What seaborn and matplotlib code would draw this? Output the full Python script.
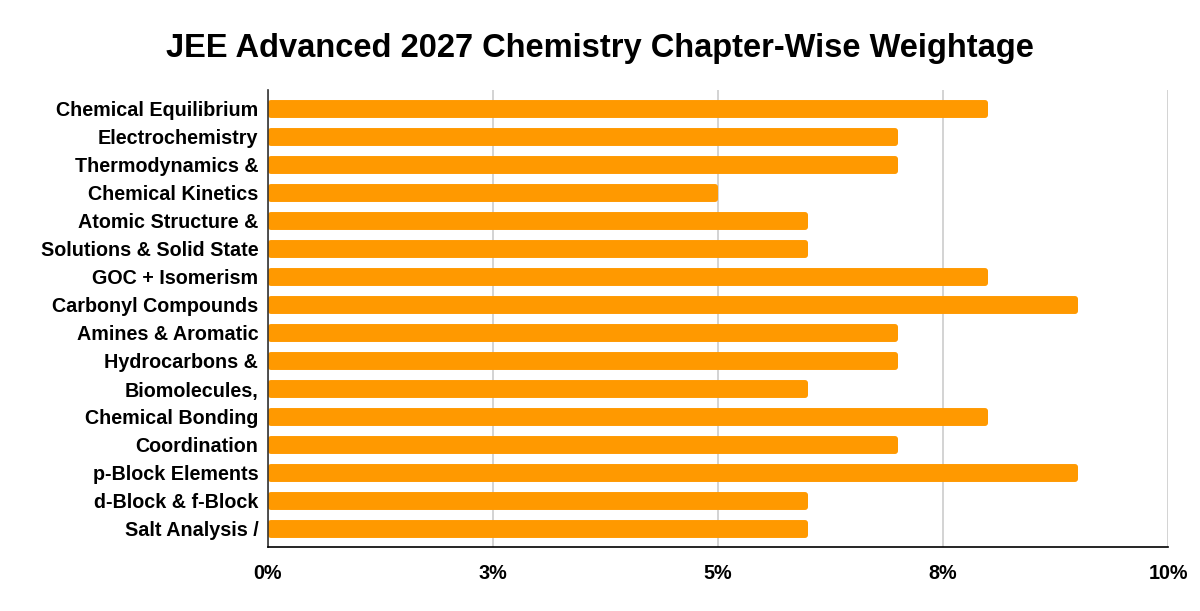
import matplotlib
matplotlib.use("Agg")
import matplotlib.pyplot as plt
import seaborn as sns
import pandas as pd
from matplotlib.patches import FancyBboxPatch
from matplotlib.ticker import FixedLocator, FixedFormatter

# Dữ liệu
chapters = [
    "Chemical Equilibrium", "Electrochemistry", "Thermodynamics &",
    "Chemical Kinetics", "Atomic Structure &", "Solutions & Solid State",
    "GOC + Isomerism", "Carbonyl Compounds", "Amines & Aromatic",
    "Hydrocarbons &", "Biomolecules,", "Chemical Bonding", "Coordination",
    "p-Block Elements", "d-Block & f-Block", "Salt Analysis /",
]
weightage = [8, 7, 7, 5, 6, 6, 8, 9, 7, 7, 6, 8, 7, 9, 6, 6]
tick_values = [0, 2.5, 5, 7.5, 10]
tick_labels = ["0%", "3%", "5%", "8%", "10%"]

df = pd.DataFrame({"Chapter": chapters, "Weightage": weightage})

sns.set_theme(style="white")
plt.rcParams["font.family"] = ["Liberation Sans", "DejaVu Sans"]
plt.rcParams["text.color"] = "black"
plt.rcParams["xtick.color"] = "black"
plt.rcParams["ytick.color"] = "black"

fig = plt.figure(figsize=(12, 6.11), dpi=100)
ax = fig.add_axes([268 / 1200, 1 - 547 / 611, 900 / 1200, 457 / 611])

sns.barplot(data=df, x="Weightage", y="Chapter", color="#ff9900",
            saturation=1, width=0.64, ax=ax, zorder=2)

n = len(chapters)
ax.set_xlim(0, 10)
ax.set_ylim(n - 0.5 + 4 / 28, -0.5 - 5 / 28)

# bo góc các thanh (giống hình gốc)
px_x = 900 / 10          # pixel cho mỗi đơn vị x
px_y = 457 / (n + 9 / 28)  # pixel cho mỗi đơn vị y
for p in list(ax.patches):
    x0, y0 = p.get_x(), p.get_y()
    w, h = p.get_width(), p.get_height()
    rb = FancyBboxPatch((x0, y0), w, h,
                        boxstyle="round,pad=0,rounding_size=%f" % (3 / px_x),
                        mutation_aspect=px_x / px_y,
                        facecolor="#ff9900", edgecolor="none", zorder=2)
    p.remove()
    ax.add_patch(rb)

ax.xaxis.set_major_locator(FixedLocator(tick_values))
ax.xaxis.set_major_formatter(FixedFormatter(tick_labels))
ax.set_axisbelow(True)
ax.xaxis.grid(True, color="#cccccc", linewidth=1.2, linestyle="-")
ax.yaxis.grid(False)
ax.set_xlabel("")
ax.set_ylabel("")
ax.tick_params(axis="x", length=0, pad=12, labelsize=14.2, labelcolor="black")
ax.tick_params(axis="y", length=0, pad=7, labelsize=14.2, labelcolor="black")
for lab in ax.get_xticklabels() + ax.get_yticklabels():
    lab.set_fontweight("bold")

for side in ["top", "right"]:
    ax.spines[side].set_visible(False)
ax.spines["left"].set_color("#333333")
ax.spines["left"].set_linewidth(1.2)
ax.spines["bottom"].set_color("#000000")
ax.spines["bottom"].set_linewidth(1.2)

fig.text(0.5, 1 - 49 / 611, "JEE Advanced 2027 Chemistry Chapter-Wise Weightage",
         ha="center", va="center", fontsize=23.5, fontweight="bold", color="black")

fig.savefig("out.png", dpi=100)
